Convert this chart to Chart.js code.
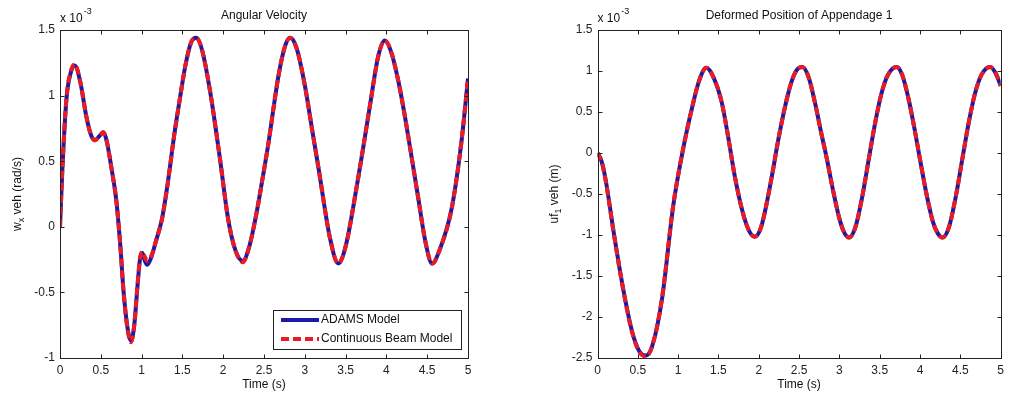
<!DOCTYPE html>
<html lang="en">
<head>
    <meta charset="UTF-8">
    <title>Angular Velocity / Deformed Position of Appendage 1</title>
    <script src="https://cdn.jsdelivr.net/npm/chart.js"></script>
    <style>
        body, html {
            margin: 0;
            padding: 0;
            width: 1009px;
            height: 396px;
            overflow: hidden;
            background: #fff;
        }
        #leftChart { position: absolute; left: 0; top: 0; }
        #rightChart { position: absolute; left: 530px; top: 0; }
    </style>
</head>
<body>
    <canvas id="leftChart" width="530" height="396"></canvas>
    <canvas id="rightChart" width="479" height="396"></canvas>
    <script>
      // left plot: angular velocity (x 10^-3 rad/s)
      const leftTime = [0, 0.03, 0.08, 0.13, 0.18, 0.25, 0.32, 0.38, 0.43, 0.48, 0.53, 0.57, 0.63, 0.69, 0.74, 0.78, 0.83, 0.87, 0.91, 0.95,
                        0.98, 1.01, 1.04, 1.07, 1.12, 1.18, 1.25, 1.32, 1.40, 1.47, 1.54, 1.61, 1.67, 1.74, 1.84, 1.96, 2.06, 2.15, 2.24, 2.32,
                        2.41, 2.48, 2.55, 2.68, 2.76, 2.82, 2.90, 3.00, 3.09, 3.17, 3.31, 3.41, 3.50, 3.64, 3.72, 3.80, 3.90, 3.98, 4.06, 4.15,
                        4.23, 4.39, 4.48, 4.56, 4.65, 4.80, 4.92, 5.00];
      const adamsLeft = [0.00, 0.45, 0.98, 1.17, 1.23, 1.10, 0.85, 0.70, 0.66, 0.69, 0.72, 0.66, 0.45, 0.20, -0.15, -0.50, -0.78, -0.87, -0.75, -0.45,
                         -0.25, -0.20, -0.26, -0.29, -0.23, -0.10, 0.06, 0.33, 0.70, 0.98, 1.24, 1.41, 1.44, 1.35, 1.03, 0.52, 0.06, -0.18, -0.26, -0.15,
                         0.11, 0.36, 0.62, 1.16, 1.38, 1.44, 1.36, 1.08, 0.74, 0.44, -0.09, -0.28, -0.15, 0.32, 0.62, 0.93, 1.30, 1.42, 1.33, 1.10,
                         0.83, 0.22, -0.12, -0.28, -0.18, 0.14, 0.65, 1.13];
      const beamLeft = [0.00, 0.46, 0.99, 1.18, 1.24, 1.10, 0.85, 0.70, 0.66, 0.69, 0.72, 0.66, 0.45, 0.20, -0.15, -0.51, -0.79, -0.88, -0.75, -0.44,
                        -0.24, -0.19, -0.23, -0.26, -0.22, -0.10, 0.06, 0.33, 0.70, 0.98, 1.24, 1.41, 1.44, 1.35, 1.03, 0.52, 0.06, -0.18, -0.27, -0.15,
                        0.11, 0.36, 0.62, 1.16, 1.38, 1.44, 1.36, 1.08, 0.74, 0.44, -0.09, -0.28, -0.15, 0.32, 0.62, 0.93, 1.30, 1.42, 1.33, 1.10,
                        0.83, 0.22, -0.12, -0.28, -0.18, 0.14, 0.65, 1.13];

      // right plot: deformed position of appendage 1 (x 10^-3 m)
      const rightTime = [0, 0.05, 0.10, 0.20, 0.31, 0.43, 0.52, 0.60, 0.68, 0.80, 0.94, 1.07, 1.17, 1.26, 1.35, 1.44, 1.54, 1.62, 1.70, 1.80,
                         1.88, 1.95, 2.03, 2.15, 2.24, 2.32, 2.40, 2.47, 2.54, 2.62, 2.70, 2.78, 2.84, 2.92, 3.00, 3.06, 3.12, 3.20, 3.28, 3.36,
                         3.44, 3.52, 3.60, 3.71, 3.78, 3.86, 3.94, 4.00, 4.08, 4.16, 4.22, 4.28, 4.36, 4.44, 4.52, 4.60, 4.68, 4.76, 4.87, 4.94, 5.00];
      const adamsRight = [0.00, -0.10, -0.32, -0.96, -1.61, -2.18, -2.42, -2.47, -2.35, -1.78, -0.64, 0.09, 0.54, 0.88, 1.04, 0.92, 0.62, 0.20, -0.27, -0.72,
                          -0.95, -1.02, -0.90, -0.35, 0.15, 0.54, 0.85, 1.01, 1.05, 0.92, 0.60, 0.22, -0.05, -0.45, -0.80, -0.97, -1.03, -0.90, -0.55, -0.10,
                          0.35, 0.72, 0.95, 1.05, 0.95, 0.65, 0.25, -0.08, -0.50, -0.84, -0.98, -1.03, -0.90, -0.55, -0.10, 0.35, 0.72, 0.95, 1.05, 0.97, 0.82];
      const beamRight = [0.00, -0.10, -0.33, -0.97, -1.62, -2.19, -2.43, -2.48, -2.35, -1.77, -0.63, 0.09, 0.54, 0.88, 1.04, 0.92, 0.62, 0.20, -0.27, -0.72,
                         -0.95, -1.02, -0.90, -0.35, 0.15, 0.54, 0.85, 1.01, 1.05, 0.92, 0.60, 0.22, -0.05, -0.45, -0.80, -0.97, -1.03, -0.90, -0.55, -0.10,
                         0.35, 0.72, 0.95, 1.05, 0.95, 0.65, 0.25, -0.08, -0.50, -0.84, -0.98, -1.03, -0.90, -0.55, -0.10, 0.35, 0.72, 0.95, 1.05, 0.97, 0.82];

      const xTicks = [0, 0.5, 1, 1.5, 2, 2.5, 3, 3.5, 4, 4.5, 5];
      const seriesLabels = ['ADAMS Model', 'Continuous Beam Model'];

      const FONT = "Arial, 'Liberation Sans', sans-serif";
      const BLUE = '#1a1aa8';
      const RED = '#e81c22';

      function toPoints(times, values) {
        return times.map((t, i) => ({ x: t, y: values[i] }));
      }

      // matlab-like frame: box, inward ticks, title, labels, exponent, legend
      function frame(cfg) {
        return {
          id: 'frame',
          afterDraw(chart) {
            const ctx = chart.ctx;
            const a = chart.chartArea;
            const xs = chart.scales.x, ys = chart.scales.y;
            const L = Math.round(a.left) + 0.5, R = Math.round(a.right) + 0.5;
            const T = Math.round(a.top) + 0.5, B = Math.round(a.bottom) + 0.5;
            ctx.save();
            ctx.strokeStyle = '#222';
            ctx.lineWidth = 1;
            ctx.strokeRect(L, T, R - L, B - T);
            ctx.beginPath();
            xs.ticks.forEach(t => {
              const px = Math.round(xs.getPixelForValue(t.value)) + 0.5;
              ctx.moveTo(px, B); ctx.lineTo(px, B - 4);
              ctx.moveTo(px, T); ctx.lineTo(px, T + 4);
            });
            ys.ticks.forEach(t => {
              const py = Math.round(ys.getPixelForValue(t.value)) + 0.5;
              ctx.moveTo(L, py); ctx.lineTo(L + 4, py);
              ctx.moveTo(R, py); ctx.lineTo(R - 4, py);
            });
            ctx.stroke();

            const cx = (a.left + a.right) / 2;
            ctx.fillStyle = '#111';
            ctx.font = '12px ' + FONT;
            ctx.textAlign = 'center';
            ctx.textBaseline = 'middle';
            ctx.fillText(cfg.title, cx, 16);
            ctx.fillText('Time (s)', cx, 385);

            // x 10^-3
            ctx.textAlign = 'left';
            ctx.fillText('x 10', a.left, 19);
            const w = ctx.measureText('x 10').width;
            ctx.font = '9px ' + FONT;
            ctx.fillText('-3', a.left + w + 1, 12);

            // rotated y label with subscript
            ctx.save();
            ctx.translate(cfg.yLabelX, (a.top + a.bottom) / 2);
            ctx.rotate(-Math.PI / 2);
            ctx.font = '12px ' + FONT;
            const w1 = ctx.measureText(cfg.yMain).width;
            const w3 = ctx.measureText(cfg.yRest).width;
            ctx.font = '9px ' + FONT;
            const w2 = ctx.measureText(cfg.ySub).width;
            let x0 = -(w1 + w2 + w3) / 2;
            ctx.font = '12px ' + FONT;
            ctx.fillText(cfg.yMain, x0, 0);
            ctx.font = '9px ' + FONT;
            ctx.fillText(cfg.ySub, x0 + w1, 4);
            ctx.font = '12px ' + FONT;
            ctx.fillText(cfg.yRest, x0 + w1 + w2, 0);
            ctx.restore();

            if (cfg.legend) {
              const lx = 273.5, ly = 310.5, lw = 188, lh = 39;
              ctx.fillStyle = '#fff';
              ctx.fillRect(lx, ly, lw, lh);
              ctx.strokeStyle = '#222';
              ctx.lineWidth = 1;
              ctx.strokeRect(lx, ly, lw, lh);
              const rows = [320, 339];
              chart.data.datasets.slice().sort((p, q) => p.legendIndex - q.legendIndex).forEach((ds, i) => {
                ctx.beginPath();
                ctx.strokeStyle = ds.borderColor;
                ctx.lineWidth = ds.borderWidth;
                ctx.setLineDash(ds.borderDash || []);
                ctx.moveTo(281, rows[i]);
                ctx.lineTo(319, rows[i]);
                ctx.stroke();
                ctx.setLineDash([]);
                ctx.fillStyle = '#111';
                ctx.font = '12px ' + FONT;
                ctx.textAlign = 'left';
                ctx.fillText(ds.label, 321, rows[i]);
              });
            }
            ctx.restore();
          }
        };
      }

      function makeChart(id, times, blueVals, redVals, yMin, yMax, leftWidth, padRight, cfg) {
        const ctx = document.getElementById(id).getContext('2d');
        return new Chart(ctx, {
          type: 'line',
          data: {
            datasets: [
              {
                label: seriesLabels[1],
                legendIndex: 1,
                data: toPoints(times, redVals),
                borderColor: RED,
                borderWidth: 4,
                borderDash: [8, 4],
                pointRadius: 0,
                cubicInterpolationMode: 'monotone',
                order: 0
              },
              {
                label: seriesLabels[0],
                legendIndex: 0,
                data: toPoints(times, blueVals),
                borderColor: BLUE,
                borderWidth: 4,
                pointRadius: 0,
                cubicInterpolationMode: 'monotone',
                order: 1
              }
            ]
          },
          options: {
            responsive: false,
            animation: false,
            layout: { padding: { top: 30, right: padRight, left: 0, bottom: 0 } },
            plugins: {
              legend: { display: false },
              title: { display: false },
              tooltip: { enabled: false }
            },
            scales: {
              x: {
                type: 'linear',
                min: 0,
                max: 5,
                afterBuildTicks: s => { s.ticks = xTicks.map(v => ({ value: v })); },
                afterFit: s => { s.height = 38; },
                grid: { display: false, drawTicks: false },
                border: { display: false },
                ticks: {
                  padding: 5,
                  color: '#222',
                  font: { size: 12, family: FONT },
                  maxRotation: 0,
                  callback: v => String(v)
                }
              },
              y: {
                min: yMin,
                max: yMax,
                afterFit: s => { s.width = leftWidth; },
                grid: { display: false, drawTicks: false },
                border: { display: false },
                ticks: {
                  stepSize: 0.5,
                  padding: 5,
                  color: '#222',
                  font: { size: 12, family: FONT },
                  callback: v => String(v)
                }
              }
            }
          },
          plugins: [frame(cfg)]
        });
      }

      makeChart('leftChart', leftTime, adamsLeft, beamLeft, -1, 1.5, 60, 62, {
        title: 'Angular Velocity',
        yLabelX: 18, yMain: 'w', ySub: 'x', yRest: ' veh (rad/s)',
        legend: true
      });
      makeChart('rightChart', rightTime, adamsRight, beamRight, -2.5, 1.5, 67.5, 4, {
        title: 'Deformed Position of Appendage 1',
        yLabelX: 25, yMain: 'uf', ySub: '1', yRest: ' veh (m)',
        legend: false
      });
    </script>
</body>
</html>
